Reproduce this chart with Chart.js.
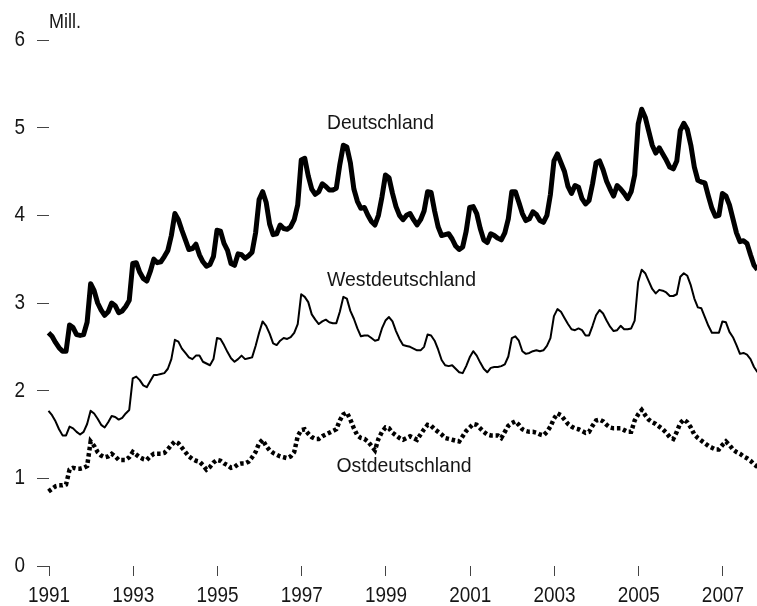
<!DOCTYPE html>
<html><head><meta charset="utf-8">
<script src="https://cdn.jsdelivr.net/npm/chart.js@4.4.1/dist/chart.umd.min.js"></script>
<style>html,body{margin:0;padding:0;background:#fff;}canvas{display:block;}</style>
</head><body>
<canvas id="c" width="757" height="606"></canvas>
<script>
// Monthly values, Jan 1991 .. Nov 2007 (millions)
const startYear = 1991;
const tickLabels = ['1991','1993','1995','1997','1999','2001','2003','2005','2007'];
const yTickValues = [0,1,2,3,4,5,6];
const unitLabel = 'Mill.';
const seriesLabels = ['Deutschland','Westdeutschland','Ostdeutschland'];

const deutschland = [
 2.66,2.62,2.55,2.49,2.45,2.45,2.75,2.72,2.64,2.63,2.64,2.78,
 3.22,3.14,3.00,2.92,2.86,2.90,3.00,2.97,2.89,2.91,2.96,3.03,
 3.45,3.46,3.35,3.28,3.25,3.36,3.50,3.46,3.47,3.53,3.60,3.77,
 4.02,3.95,3.83,3.72,3.61,3.62,3.67,3.55,3.47,3.42,3.44,3.53,
 3.83,3.82,3.68,3.60,3.45,3.43,3.56,3.55,3.51,3.54,3.58,3.80,
 4.18,4.27,4.15,3.90,3.78,3.79,3.89,3.85,3.84,3.87,3.95,4.12,
 4.63,4.65,4.45,4.30,4.24,4.27,4.36,4.33,4.29,4.29,4.31,4.58,
 4.80,4.78,4.60,4.30,4.16,4.08,4.09,4.00,3.93,3.89,4.00,4.21,
 4.46,4.43,4.25,4.10,4.00,3.95,4.00,4.02,3.95,3.89,3.95,4.05,
 4.27,4.26,4.05,3.87,3.77,3.78,3.79,3.73,3.65,3.61,3.64,3.82,
 4.09,4.10,4.02,3.85,3.72,3.69,3.79,3.77,3.74,3.72,3.80,3.96,
 4.27,4.27,4.15,4.02,3.94,3.96,4.04,4.01,3.94,3.92,4.00,4.24,
 4.62,4.70,4.60,4.50,4.33,4.25,4.34,4.32,4.19,4.13,4.17,4.36,
 4.60,4.62,4.52,4.39,4.30,4.22,4.34,4.30,4.25,4.19,4.27,4.46,
 5.04,5.21,5.12,4.96,4.80,4.71,4.77,4.70,4.63,4.55,4.53,4.62,
 4.97,5.05,4.98,4.80,4.55,4.40,4.38,4.37,4.22,4.08,3.99,4.00,
 4.25,4.22,4.12,3.96,3.80,3.70,3.71,3.68,3.55,3.43,3.38
];
const westdeutschland = [
 1.77,1.72,1.65,1.56,1.49,1.49,1.59,1.57,1.53,1.50,1.53,1.62,
 1.77,1.74,1.68,1.61,1.58,1.64,1.71,1.70,1.67,1.69,1.74,1.78,
 2.14,2.16,2.12,2.06,2.04,2.11,2.18,2.18,2.19,2.20,2.25,2.36,
 2.58,2.56,2.48,2.43,2.38,2.36,2.40,2.40,2.33,2.31,2.29,2.36,
 2.60,2.59,2.52,2.44,2.37,2.33,2.36,2.40,2.36,2.37,2.38,2.51,
 2.66,2.79,2.74,2.65,2.54,2.52,2.57,2.60,2.59,2.61,2.66,2.76,
 3.10,3.07,3.01,2.87,2.81,2.76,2.79,2.81,2.78,2.77,2.77,2.90,
 3.07,3.05,2.91,2.82,2.71,2.62,2.63,2.63,2.60,2.57,2.58,2.71,
 2.80,2.84,2.79,2.68,2.59,2.52,2.51,2.50,2.48,2.46,2.46,2.50,
 2.64,2.63,2.57,2.47,2.35,2.29,2.28,2.29,2.25,2.21,2.20,2.28,
 2.38,2.45,2.40,2.32,2.25,2.21,2.26,2.27,2.27,2.28,2.30,2.39,
 2.60,2.62,2.57,2.45,2.42,2.43,2.45,2.46,2.45,2.46,2.51,2.60,
 2.85,2.93,2.90,2.83,2.76,2.70,2.69,2.71,2.69,2.63,2.63,2.74,
 2.86,2.92,2.88,2.80,2.73,2.68,2.69,2.74,2.70,2.70,2.71,2.80,
 3.24,3.38,3.34,3.25,3.16,3.11,3.15,3.14,3.12,3.08,3.08,3.10,
 3.30,3.34,3.31,3.20,3.05,2.95,2.94,2.84,2.74,2.66,2.66,2.66,
 2.79,2.78,2.67,2.61,2.52,2.42,2.43,2.41,2.36,2.27,2.21
];
const ostdeutschland = [
 0.85,0.88,0.91,0.92,0.92,0.93,1.10,1.12,1.11,1.11,1.12,1.14,
 1.42,1.37,1.30,1.26,1.24,1.25,1.28,1.25,1.21,1.21,1.21,1.24,
 1.30,1.27,1.24,1.22,1.21,1.25,1.28,1.28,1.28,1.29,1.33,1.38,
 1.42,1.40,1.35,1.30,1.25,1.22,1.20,1.19,1.15,1.10,1.13,1.18,
 1.21,1.20,1.17,1.15,1.12,1.13,1.16,1.17,1.17,1.19,1.24,1.30,
 1.40,1.44,1.37,1.32,1.29,1.27,1.25,1.24,1.23,1.25,1.30,1.48,
 1.55,1.56,1.51,1.47,1.45,1.45,1.48,1.50,1.52,1.54,1.56,1.66,
 1.73,1.75,1.67,1.57,1.49,1.46,1.45,1.42,1.37,1.32,1.45,1.53,
 1.58,1.57,1.52,1.49,1.46,1.44,1.46,1.48,1.46,1.44,1.50,1.56,
 1.61,1.60,1.56,1.53,1.50,1.46,1.45,1.44,1.43,1.42,1.48,1.54,
 1.58,1.62,1.61,1.57,1.53,1.50,1.49,1.49,1.49,1.46,1.53,1.60,
 1.63,1.65,1.61,1.56,1.54,1.53,1.53,1.52,1.50,1.49,1.53,1.59,
 1.68,1.74,1.72,1.67,1.62,1.59,1.57,1.56,1.54,1.52,1.53,1.60,
 1.66,1.67,1.65,1.61,1.58,1.57,1.57,1.57,1.55,1.53,1.53,1.66,
 1.73,1.78,1.72,1.67,1.64,1.62,1.59,1.56,1.52,1.47,1.45,1.53,
 1.63,1.67,1.64,1.58,1.50,1.46,1.43,1.40,1.37,1.35,1.33,1.33,
 1.38,1.42,1.38,1.33,1.30,1.28,1.25,1.23,1.20,1.16,1.13
];

// ---- fonts ----
function hasFont(name){
  const c = document.createElement('canvas').getContext('2d');
  c.font = '22px monospace'; const a = c.measureText('1991 Mill. Wd').width;
  c.font = '22px "' + name + '", monospace'; const b = c.measureText('1991 Mill. Wd').width;
  return Math.abs(a-b) > 0.5;
}
const narrow = hasFont('Liberation Sans Narrow');
const FAMILY = narrow ? '"Liberation Sans Narrow", "Liberation Sans", Arial, sans-serif' : '"Liberation Sans", Arial, sans-serif';
const SQUEEZE = narrow ? 1.05 : 0.86;   // horizontal condensing of tick text
const TEXT_COLOR = '#161616';
const TICK_COLOR = '#444';

const X0 = 0.14;
const toPoints = arr => arr.map((v, i) => ({x: i, y: v}));

function drawScaled(ctx, text, x, y, sx, align) {
  ctx.save();
  ctx.translate(x, y);
  ctx.scale(sx, 1);
  ctx.textAlign = align;
  ctx.fillText(text, 0, 0);
  ctx.restore();
}

const textPlugin = {
  id: 'chartText',
  afterDraw(chart) {
    const ctx = chart.ctx;
    const xs = chart.scales.x, ys = chart.scales.y;
    ctx.save();
    ctx.fillStyle = TEXT_COLOR;
    ctx.textBaseline = 'alphabetic';
    // axis tick labels
    ctx.font = '22px ' + FAMILY;
    xs.ticks.forEach((t, k) => {
      drawScaled(ctx, tickLabels[k], xs.getPixelForValue(t.value), 601.5, SQUEEZE, 'center');
    });
    ys.ticks.forEach(t => {
      drawScaled(ctx, String(t.value), 25, ys.getPixelForValue(t.value) + 6, SQUEEZE, 'right');
    });
    // unit and series labels
    ctx.font = '21px ' + FAMILY;
    const items = [
      {t: unitLabel, x: 49, y: 28, w: 32},
      {t: seriesLabels[0], x: 327, y: 128.5, w: 107},
      {t: seriesLabels[1], x: 327, y: 285.5, w: 149},
      {t: seriesLabels[2], x: 336.5, y: 472, w: 135}
    ];
    items.forEach(it => {
      const m = ctx.measureText(it.t).width;
      drawScaled(ctx, it.t, it.x, it.y, it.w / m, 'left');
    });
    ctx.restore();
  }
};

new Chart(document.getElementById('c'), {
  type: 'line',
  data: {
    datasets: [
      {label: seriesLabels[1], data: toPoints(westdeutschland), borderColor: '#000', borderWidth: 2,
       pointRadius: 0, tension: 0, borderJoinStyle: 'round', fill: false},
      {label: seriesLabels[2], data: toPoints(ostdeutschland), borderColor: '#000', borderWidth: 4.5,
       borderDash: [3.5, 2.8], borderCapStyle: 'butt', pointRadius: 0, tension: 0, fill: false},
      {label: seriesLabels[0], data: toPoints(deutschland), borderColor: '#000', borderWidth: 5,
       pointRadius: 0, tension: 0, borderJoinStyle: 'round', fill: false}
    ]
  },
  options: {
    responsive: false,
    devicePixelRatio: 1,
    animation: false,
    clip: false,
    layout: {padding: {top: 40, right: 0, left: 0, bottom: 0}},
    plugins: {legend: {display: false}, tooltip: {enabled: false}},
    scales: {
      x: {
        type: 'linear',
        min: X0,
        max: X0 + 201.71,
        afterBuildTicks: s => { s.ticks = tickLabels.map((_, k) => ({value: X0 + 24 * k})); },
        afterFit: s => { s.height = 40; },
        grid: {display: true, drawOnChartArea: false, drawTicks: true, tickLength: 10, color: TICK_COLOR, lineWidth: 1},
        border: {display: false},
        ticks: {display: false, autoSkip: false, maxRotation: 0}
      },
      y: {
        min: 0, max: 6,
        afterBuildTicks: s => { s.ticks = yTickValues.map(v => ({value: v})); },
        afterFit: s => { s.width = 49; },
        grid: {display: true, drawOnChartArea: false, drawTicks: true, tickLength: 12, color: TICK_COLOR, lineWidth: 1},
        border: {display: false},
        ticks: {display: false}
      }
    }
  },
  plugins: [textPlugin]
});
</script>
</body></html>
